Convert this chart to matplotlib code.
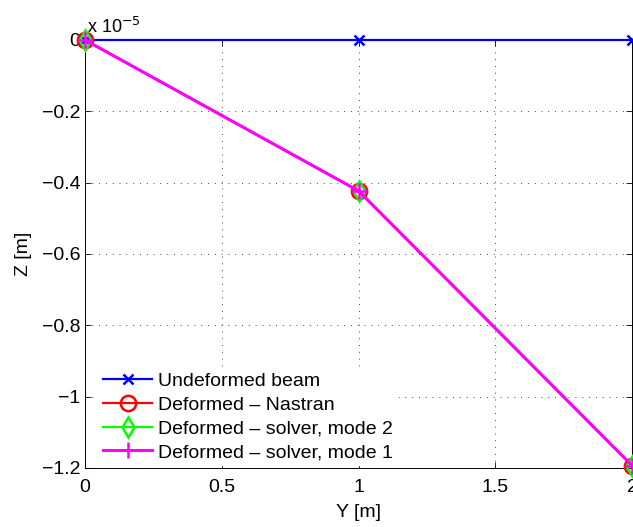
import matplotlib
matplotlib.use("Agg")
import matplotlib.pyplot as plt
import numpy as np

plt.rcParams['font.family'] = ['Liberation Sans', 'DejaVu Sans']

# Data (Y position [m], Z displacement [m])
y_pos = [0.0, 1.0, 2.0]
z_undeformed = [0.0, 0.0, 0.0]
z_nastran = [0.0, -0.423e-5, -1.193e-5]
z_mode2 = [0.0, -0.423e-5, -1.193e-5]
z_mode1 = [0.0, -0.423e-5, -1.193e-5]
scale = 1e-5
x_ticks = [0, 0.5, 1, 1.5, 2]
x_ticklabels = ['0', '0.5', '1', '1.5', '2']
y_ticks = [0, -0.2, -0.4, -0.6, -0.8, -1.0, -1.2]
y_ticklabels = ['0', '\u22120.2', '\u22120.4', '\u22120.6', '\u22120.8', '\u22121', '\u22121.2']
labels = ['Undeformed beam', 'Deformed \u2013 Nastran',
          'Deformed \u2013 solver, mode 2', 'Deformed \u2013 solver, mode 1']

W, H = 633, 527
FS = 14
fig = plt.figure(figsize=(W / 100, H / 100), dpi=100)
ax = fig.add_axes([85 / W, 1 - 468 / H, (632 - 85) / W, (468 - 40) / H])

def sc(v):
    return np.asarray(v) / scale

ax.plot(y_pos, sc(z_undeformed), color='#0000ff', lw=1.6, marker='x', ms=7, mew=1.8,
        label=labels[0], clip_on=False, zorder=3)
ax.plot(y_pos, sc(z_nastran), color='#ff0000', lw=1.6, marker='o', ms=11, mfc='none', mew=1.8,
        label=labels[1], clip_on=False, zorder=4)
ax.plot(y_pos, sc(z_mode2), color='#00ff00', lw=1.6, marker='d', ms=10.5, mfc='none', mew=1.8,
        label=labels[2], clip_on=False, zorder=5)
ax.plot(y_pos, sc(z_mode1), color='#ff00ff', lw=2.2, marker='+', ms=12, mew=1.8,
        label=labels[3], clip_on=False, zorder=6)

ax.set_xlim(0, 2)
ax.set_ylim(-1.2, 0)
ax.set_xticks(x_ticks)
ax.set_xticklabels(x_ticklabels)
ax.set_yticks(y_ticks)
ax.set_yticklabels(y_ticklabels)
ax.tick_params(direction='in', top=True, right=True, labelsize=FS, length=4, width=0.6)
ax.tick_params(axis='x', pad=8)
ax.tick_params(axis='y', pad=3.5)
ax.grid(True, linestyle=(0, (1, 6)), color='#444444', lw=0.7)
for s in ax.spines.values():
    s.set_linewidth(0.7)

ax.set_xlabel('Y [m]', fontsize=FS, labelpad=6)
ax.set_ylabel('Z [m]', fontsize=FS, labelpad=7)
fig.text(87 / W, 1 - 33 / H, 'x 10$^{\u22125}$', fontsize=13, ha='left', va='baseline')

leg = ax.legend(loc='lower left', bbox_to_anchor=(0.026, 0.006), fontsize=FS, frameon=True,
                fancybox=False, edgecolor='white', framealpha=1, handlelength=2.5,
                handletextpad=0.3, labelspacing=0.31, borderpad=0.22, borderaxespad=0)

fig.savefig('out.png', dpi=100)
